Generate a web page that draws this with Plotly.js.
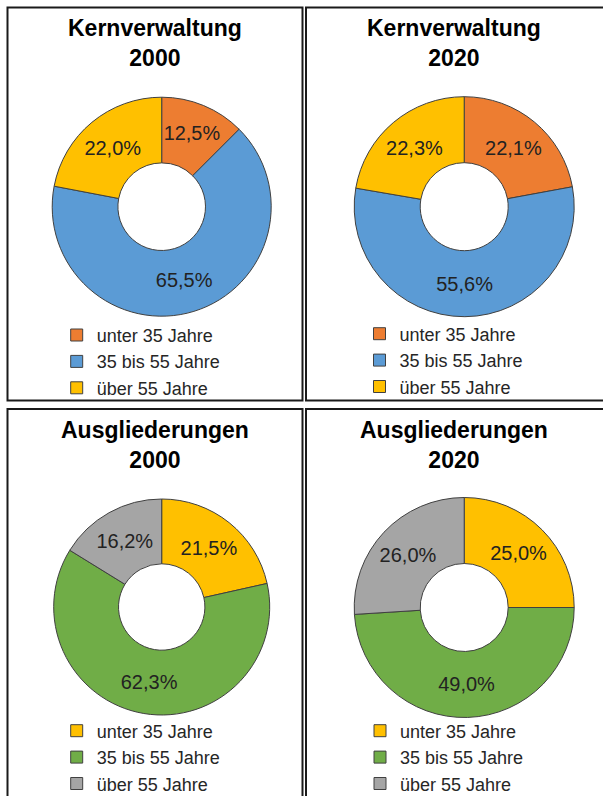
<!DOCTYPE html>
<html><head><meta charset="utf-8">
<script src="https://cdn.plot.ly/plotly-3.0.1.min.js"></script>
<style>
html,body{margin:0;padding:0;overflow:hidden;background:#fff}
#wrap{width:603px;height:796px;overflow:hidden;position:relative}
#chart{width:603px;height:820px}
</style></head>
<body><div id="wrap"><div id="chart"></div></div>
<script>
// ---- data ----
const labels = ['unter 35 Jahre', '35 bis 55 Jahre', 'über 55 Jahre'];
const panelTitles = ['Kernverwaltung<br>2000', 'Kernverwaltung<br>2020', 'Ausgliederungen<br>2000', 'Ausgliederungen<br>2020'];
const kern2000 = [12.5, 65.5, 22.0];
const kern2020 = [22.1, 55.6, 22.3];
const ausg2000 = [21.5, 62.3, 16.2];
const ausg2020 = [25.0, 49.0, 26.0];
const kernColors = ['#ED7D31', '#5B9BD5', '#FFC000'];
const ausgColors = ['#FFC000', '#70AD47', '#A5A5A5'];

// ---- layout helpers (pixel -> paper) ----
const W = 603, H = 820;
const px = x => x / W;
const py = y => 1 - y / H;
const FONT = 'Liberation Sans, Arial, sans-serif';

const panels = [
  {vals: kern2000, cols: kernColors, cx: 161.7, cy: 206.7, r: 109.5, tx: 154.5, ty: 43.4, lx: 56.7, ly: 316.8, leg: 'legend'},
  {vals: kern2020, cols: kernColors, cx: 464.2, cy: 206.7, r: 110, tx: 454, ty: 43.4, lx: 359.5, ly: 315.5, leg: 'legend2'},
  {vals: ausg2000, cols: ausgColors, cx: 161.7, cy: 607, r: 108, tx: 154.5, ty: 445.4, lx: 56.7, ly: 712.5, leg: 'legend3'},
  {vals: ausg2020, cols: ausgColors, cx: 464.2, cy: 607.5, r: 110, tx: 454, ty: 445.4, lx: 360, ly: 712.5, leg: 'legend4'}
];

const data = panels.map((p, i) => ({
  type: 'pie',
  labels: labels,
  values: p.vals,
  hole: 0.4,
  sort: false,
  direction: 'clockwise',
  rotation: 0,
  marker: {colors: p.cols, line: {color: '#404040', width: 1}},
  texttemplate: '%{value:.1f}%',
  textposition: 'inside',
  insidetextorientation: 'horizontal',
  textfont: {family: FONT, size: 20, color: '#222'},
  domain: {x: [px(p.cx - p.r), px(p.cx + p.r)], y: [py(p.cy + p.r), py(p.cy - p.r)]},
  legend: p.leg,
  legendgroup: 'g' + i,
  showlegend: true,
  hoverinfo: 'none'
}));

const layout = {
  width: W, height: H,
  margin: {l: 0, r: 0, t: 0, b: 0},
  paper_bgcolor: '#fff',
  separators: ',.',
  font: {family: FONT, color: '#222'},
  annotations: panels.map((p, i) => ({
    xref: 'paper', yref: 'paper', x: px(p.tx), y: py(p.ty),
    xanchor: 'center', yanchor: 'middle', showarrow: false,
    text: '<b>' + panelTitles[i] + '</b>',
    font: {family: FONT, size: 23, color: '#000'}
  })),
  shapes: [
    [7.5, 7.5, 302.5, 400.5],
    [306, 7.5, 606, 400.5],
    [7.5, 409, 302.5, 830],
    [306, 409, 606, 830]
  ].map(b => ({type: 'rect', xref: 'paper', yref: 'paper', x0: px(b[0]), x1: px(b[2]), y0: py(b[3]), y1: py(b[1]),
      line: {color: '#1a1a1a', width: 2}, fillcolor: 'rgba(0,0,0,0)', layer: 'below'}))
};
panels.forEach(p => {
  layout[p.leg] = {
    x: px(p.lx), y: py(p.ly), xanchor: 'left', yanchor: 'top',
    bgcolor: 'rgba(0,0,0,0)', borderwidth: 0,
    font: {family: FONT, size: 18, color: '#262626'},
    traceorder: 'normal'
  };
});

Plotly.newPlot('chart', data, layout, {staticPlot: true, displayModeBar: false});
</script>
</body></html>
